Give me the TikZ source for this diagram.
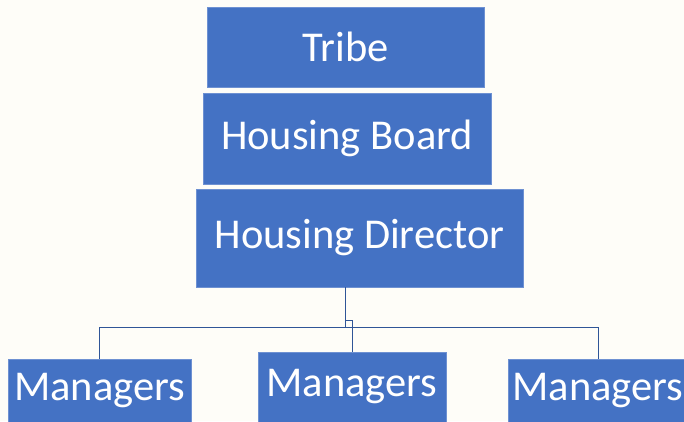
\documentclass[tikz,border=0pt]{standalone}
\usepackage{fontspec}
\setmainfont{Carlito}
\usepackage{tikz}
\usetikzlibrary{positioning}
\definecolor{pageColor}{RGB}{254, 253, 248}
\definecolor{boxFill}{RGB}{68, 114, 196}
\definecolor{boxEdge}{RGB}{110, 145, 210}
\definecolor{linkColor}{RGB}{47, 85, 151}
\tikzset{
    org_box/.style={
        rectangle,
        fill=boxFill,
        draw=boxEdge,
        line width=0.6pt,
        text=white,
        inner sep=0pt,
        font=\fontsize{42.5}{50}\selectfont
    },
    org_link/.style={
        draw=linkColor,
        line width=0.9pt
    }
}

\begin{document}
\begin{tikzpicture}[x=1pt, y=1pt]
    \fill[pageColor] (0,0) rectangle (684,421);
    \clip (0,0) rectangle (684,421);
    \useasboundingbox (0,0) rectangle (684,421);

    \node[org_box, minimum width=277, minimum height=80] (tribe) at (345.5,374) {Tribe};
    \node[org_box, minimum width=288, minimum height=91] (board) at (347,282.5) {Housing Board};
    \node[org_box, minimum width=327, minimum height=98] (director) at (359.5,183) {Housing Director};
    \node[org_box, minimum width=183, minimum height=64] (mgrA) at (99.5,30) {Managers};
    \node[org_box, minimum width=188, minimum height=70] (mgrB) at (352,34) {Managers};
    \node[org_box, minimum width=180, minimum height=64] (mgrC) at (598,30) {Managers};

    \coordinate (bus) at (345,94);

    \draw[org_link] (director.south -| bus) -- (bus);
    \draw[org_link] (mgrA.north) -- (mgrA.north |- bus) -- (mgrC.north |- bus) -- (mgrC.north);
    \draw[org_link] ([yshift=7pt]bus) -| (mgrB.north);
\end{tikzpicture}
\end{document}
